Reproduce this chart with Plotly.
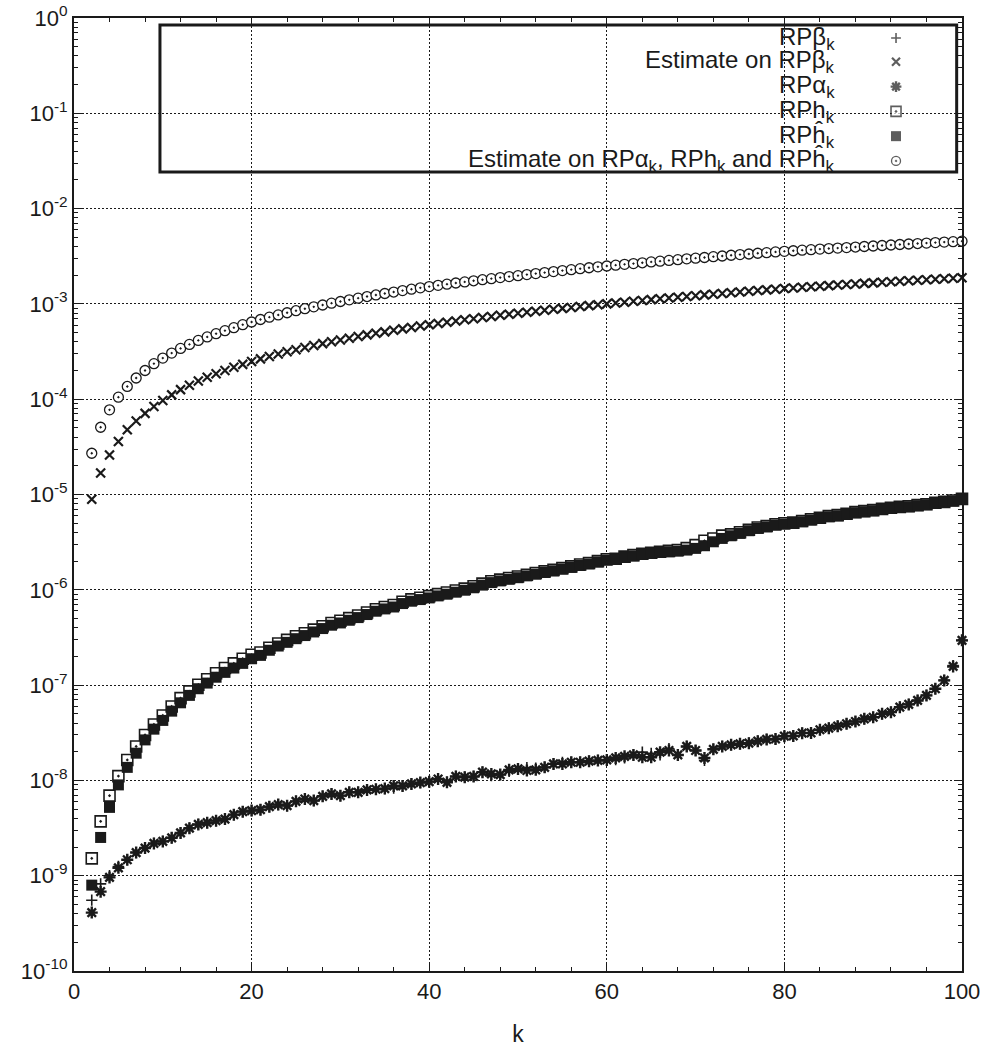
import plotly.graph_objects as go

k = list(range(2, 101))

rp_beta = [5.53e-10, 8.2e-10, 1.0e-9, 1.25e-9, 1.47e-9, 1.75e-9, 1.95e-9, 2.18e-9, 2.29e-9, 2.5e-9,
           2.81e-9, 3.15e-9, 3.45e-9, 3.6e-9, 3.78e-9, 3.93e-9, 4.37e-9, 4.7e-9, 4.82e-9,
           4.93e-9, 5.3e-9, 5.57e-9, 5.43e-9, 6.03e-9, 6.38e-9, 6.14e-9, 6.81e-9, 7.21e-9, 6.92e-9,
           7.5e-9, 7.5e-9, 7.94e-9, 8.07e-9, 8.2e-9, 8.3e-9, 8.75e-9, 9.18e-9, 9.48e-9, 9.7e-9,
           1.035e-8, 9.55e-9, 1.1e-8, 1.08e-8, 1.1e-8, 1.22e-8, 1.12e-8, 1.15e-8, 1.24e-8, 1.32e-8,
           1.36e-8, 1.35e-8, 1.37e-8, 1.49e-8, 1.55e-8, 1.55e-8, 1.55e-8, 1.59e-8, 1.62e-8, 1.64e-8,
           1.65e-8, 1.72e-8, 1.85e-8, 1.98e-8, 1.92e-8, 1.85e-8, 2.15e-8, 1.85e-8, 2.27e-8, 2.06e-8,
           1.62e-8, 2.12e-8, 2.27e-8, 2.36e-8, 2.42e-8, 2.46e-8, 2.58e-8, 2.69e-8, 2.72e-8, 2.91e-8,
           2.93e-8, 3.13e-8, 3.15e-8, 3.4e-8, 3.53e-8, 3.71e-8, 3.93e-8, 4.15e-8, 4.43e-8, 4.6e-8,
           5.0e-8, 5.2e-8, 5.87e-8, 6.27e-8, 6.9e-8, 7.8e-8, 9.16e-8, 1.12e-7, 1.6e-7, 2.95e-7]

est_beta = [8.9e-6, 1.68e-5, 2.6e-5, 3.6e-5, 4.77e-5, 5.9e-5, 7.1e-5, 8.4e-5, 9.7e-5, 1.11e-4, 1.26e-4,
            1.40e-4, 1.55e-4, 1.70e-4, 1.85e-4, 2.00e-4, 2.16e-4, 2.32e-4, 2.49e-4,
            2.65e-4, 2.81e-4, 2.98e-4, 3.14e-4, 3.31e-4, 3.48e-4, 3.66e-4, 3.83e-4, 4.01e-4, 4.18e-4,
            4.36e-4, 4.54e-4, 4.73e-4, 4.91e-4, 5.09e-4, 5.28e-4, 5.47e-4, 5.66e-4, 5.85e-4, 6.05e-4,
            6.24e-4, 6.43e-4, 6.62e-4, 6.81e-4, 7.00e-4, 7.19e-4, 7.39e-4, 7.59e-4, 7.78e-4, 7.98e-4,
            8.18e-4, 8.38e-4, 8.58e-4, 8.78e-4, 8.98e-4, 9.18e-4, 9.38e-4, 9.59e-4, 9.79e-4, 1.0e-3,
            1.021e-3, 1.043e-3, 1.065e-3, 1.087e-3, 1.109e-3, 1.131e-3, 1.153e-3, 1.175e-3, 1.198e-3, 1.22e-3,
            1.243e-3, 1.265e-3, 1.288e-3, 1.311e-3, 1.334e-3, 1.357e-3, 1.38e-3, 1.403e-3, 1.427e-3, 1.45e-3,
            1.471e-3, 1.492e-3, 1.514e-3, 1.535e-3, 1.556e-3, 1.578e-3, 1.599e-3, 1.62e-3, 1.642e-3, 1.663e-3,
            1.685e-3, 1.707e-3, 1.728e-3, 1.75e-3, 1.772e-3, 1.794e-3, 1.816e-3, 1.838e-3, 1.859e-3, 1.88e-3]

rp_alpha = [4.1e-10, 6.8e-10, 9.6e-10, 1.21e-9, 1.47e-9, 1.75e-9, 1.95e-9, 2.18e-9, 2.29e-9, 2.5e-9,
            2.81e-9, 3.15e-9, 3.45e-9, 3.6e-9, 3.78e-9, 3.93e-9, 4.37e-9, 4.7e-9, 4.82e-9,
            4.93e-9, 5.3e-9, 5.57e-9, 5.43e-9, 6.03e-9, 6.38e-9, 6.14e-9, 6.81e-9, 7.21e-9, 6.92e-9,
            7.5e-9, 7.5e-9, 7.94e-9, 8.07e-9, 8.2e-9, 8.75e-9, 8.75e-9, 9.18e-9, 9.48e-9, 9.7e-9,
            1.035e-8, 9.55e-9, 1.1e-8, 1.08e-8, 1.1e-8, 1.22e-8, 1.17e-8, 1.15e-8, 1.29e-8, 1.32e-8,
            1.27e-8, 1.29e-8, 1.37e-8, 1.49e-8, 1.49e-8, 1.55e-8, 1.55e-8, 1.59e-8, 1.62e-8, 1.64e-8,
            1.72e-8, 1.79e-8, 1.85e-8, 1.75e-8, 1.75e-8, 1.98e-8, 2.06e-8, 1.85e-8, 2.27e-8, 2.06e-8,
            1.72e-8, 2.12e-8, 2.27e-8, 2.36e-8, 2.42e-8, 2.46e-8, 2.58e-8, 2.69e-8, 2.72e-8, 2.91e-8,
            2.93e-8, 3.13e-8, 3.15e-8, 3.4e-8, 3.53e-8, 3.71e-8, 3.93e-8, 4.15e-8, 4.43e-8, 4.6e-8,
            5.0e-8, 5.2e-8, 5.87e-8, 6.27e-8, 6.9e-8, 7.8e-8, 9.16e-8, 1.12e-7, 1.57e-7, 2.95e-7]

rp_h = [1.52e-9, 3.72e-9, 6.92e-9, 1.11e-8, 1.64e-8, 2.27e-8, 3.0e-8, 3.86e-8, 4.8e-8, 5.97e-8,
        7.3e-8, 8.6e-8, 1.01e-7, 1.15e-7, 1.33e-7, 1.51e-7, 1.69e-7, 1.89e-7, 2.08e-7,
        2.2e-7, 2.47e-7, 2.73e-7, 2.98e-7, 3.25e-7, 3.5e-7, 3.82e-7, 4.14e-7, 4.48e-7, 4.73e-7,
        5.05e-7, 5.38e-7, 5.78e-7, 6.26e-7, 6.6e-7, 6.92e-7, 7.5e-7, 7.93e-7, 8.25e-7, 8.58e-7,
        9.0e-7, 9.37e-7, 9.83e-7, 1.03e-6, 1.09e-6, 1.16e-6, 1.23e-6, 1.28e-6, 1.33e-6, 1.38e-6,
        1.44e-6, 1.5e-6, 1.56e-6, 1.62e-6, 1.69e-6, 1.76e-6, 1.84e-6, 1.91e-6, 2.0e-6, 2.09e-6,
        2.12e-6, 2.23e-6, 2.31e-6, 2.39e-6, 2.45e-6, 2.51e-6, 2.56e-6, 2.62e-6, 2.74e-6, 2.94e-6,
        3.27e-6, 3.45e-6, 3.7e-6, 3.82e-6, 4.02e-6, 4.27e-6, 4.5e-6, 4.67e-6, 4.87e-6, 4.99e-6,
        5.07e-6, 5.27e-6, 5.49e-6, 5.71e-6, 5.94e-6, 6.07e-6, 6.27e-6, 6.53e-6, 6.69e-6, 6.85e-6,
        7.07e-6, 7.25e-6, 7.42e-6, 7.54e-6, 7.73e-6, 7.91e-6, 8.18e-6, 8.37e-6, 8.64e-6, 9.0e-6]

rp_hhat = [7.96e-10, 2.52e-9, 5.21e-9, 8.97e-9, 1.37e-8, 1.93e-8, 2.66e-8, 3.45e-8, 4.26e-8, 5.33e-8,
           6.52e-8, 7.8e-8, 9.16e-8, 1.05e-7, 1.21e-7, 1.36e-7, 1.51e-7, 1.69e-7, 1.89e-7,
           2.05e-7, 2.32e-7, 2.57e-7, 2.81e-7, 3.07e-7, 3.31e-7, 3.61e-7, 3.92e-7, 4.25e-7, 4.49e-7,
           4.79e-7, 5.11e-7, 5.5e-7, 5.96e-7, 6.3e-7, 6.6e-7, 7.17e-7, 7.59e-7, 7.9e-7, 8.22e-7,
           8.63e-7, 8.99e-7, 9.44e-7, 9.9e-7, 1.05e-6, 1.12e-6, 1.19e-6, 1.24e-6, 1.29e-6, 1.34e-6,
           1.40e-6, 1.46e-6, 1.52e-6, 1.58e-6, 1.65e-6, 1.72e-6, 1.80e-6, 1.87e-6, 1.96e-6, 2.05e-6,
           2.08e-6, 2.19e-6, 2.27e-6, 2.35e-6, 2.41e-6, 2.47e-6, 2.51e-6, 2.55e-6, 2.61e-6, 2.72e-6,
           2.9e-6, 3.19e-6, 3.46e-6, 3.69e-6, 3.91e-6, 4.17e-6, 4.41e-6, 4.58e-6, 4.78e-6, 4.9e-6,
           4.98e-6, 5.18e-6, 5.4e-6, 5.62e-6, 5.85e-6, 5.98e-6, 6.18e-6, 6.44e-6, 6.6e-6, 6.76e-6,
           6.98e-6, 7.16e-6, 7.33e-6, 7.45e-6, 7.64e-6, 7.82e-6, 8.09e-6, 8.28e-6, 8.55e-6, 8.9e-6]

est_all = [2.71e-5, 5.08e-5, 7.74e-5, 1.05e-4, 1.36e-4, 1.67e-4, 2.0e-4, 2.36e-4, 2.7e-4, 3.05e-4,
           3.41e-4, 3.76e-4, 4.14e-4, 4.5e-4, 4.87e-4, 5.24e-4, 5.63e-4, 6.05e-4, 6.46e-4,
           6.86e-4, 7.26e-4, 7.66e-4, 8.07e-4, 8.48e-4, 8.90e-4, 9.31e-4, 9.74e-4, 1.017e-3, 1.06e-3,
           1.104e-3, 1.149e-3, 1.195e-3, 1.241e-3, 1.286e-3, 1.332e-3, 1.379e-3, 1.426e-3, 1.473e-3, 1.52e-3,
           1.565e-3, 1.61e-3, 1.656e-3, 1.702e-3, 1.748e-3, 1.794e-3, 1.841e-3, 1.887e-3, 1.934e-3, 1.98e-3,
           2.031e-3, 2.082e-3, 2.133e-3, 2.185e-3, 2.237e-3, 2.289e-3, 2.341e-3, 2.394e-3, 2.447e-3, 2.5e-3,
           2.55e-3, 2.6e-3, 2.65e-3, 2.7e-3, 2.76e-3, 2.81e-3, 2.86e-3, 2.91e-3, 2.97e-3, 3.02e-3,
           3.07e-3, 3.13e-3, 3.18e-3, 3.24e-3, 3.29e-3, 3.34e-3, 3.40e-3, 3.45e-3, 3.51e-3, 3.56e-3,
           3.61e-3, 3.66e-3, 3.71e-3, 3.76e-3, 3.81e-3, 3.85e-3, 3.90e-3, 3.95e-3, 4.00e-3, 4.05e-3,
           4.10e-3, 4.15e-3, 4.20e-3, 4.25e-3, 4.30e-3, 4.35e-3, 4.40e-3, 4.45e-3, 4.50e-3, 4.55e-3]

series_names = ["RPβ<sub>k</sub>", "Estimate on RPβ<sub>k</sub>", "RPα<sub>k</sub>",
                "RPh<sub>k</sub>", "RPĥ<sub>k</sub>",
                "Estimate on RPα<sub>k</sub>, RPh<sub>k</sub> and RPĥ<sub>k</sub>"]

y_tick_vals = [1e-10, 1e-9, 1e-8, 1e-7, 1e-6, 1e-5, 1e-4, 1e-3, 1e-2, 1e-1, 1]
y_tick_text = ["10<sup>-10</sup>", "10<sup>-9</sup>", "10<sup>-8</sup>", "10<sup>-7</sup>",
               "10<sup>-6</sup>", "10<sup>-5</sup>", "10<sup>-4</sup>", "10<sup>-3</sup>",
               "10<sup>-2</sup>", "10<sup>-1</sup>", "10<sup>0</sup>"]
y_minor_vals = [m * d for d in [1e-10, 1e-9, 1e-8, 1e-7, 1e-6, 1e-5, 1e-4, 1e-3, 1e-2, 1e-1]
                for m in range(2, 10)]

FONT = "Liberation Sans, Arial, sans-serif"
BLACK = "#1a1a1a"

styles = [
    dict(symbol="cross-thin-open", size=8, line=dict(width=1.6, color=BLACK), color=BLACK),
    dict(symbol="x-thin-open", size=9, line=dict(width=2.2, color=BLACK), color=BLACK),
    dict(symbol="asterisk-open", size=10, line=dict(width=2.4, color=BLACK), color=BLACK),
    dict(symbol="square-dot", size=11, color="white", line=dict(width=1.6, color=BLACK)),
    dict(symbol="square", size=11, color=BLACK, line=dict(width=0, color=BLACK)),
    dict(symbol="circle-dot", size=10, color="white", line=dict(width=1.3, color=BLACK)),
]
data = [rp_beta, est_beta, rp_alpha, rp_h, rp_hhat, est_all]

fig = go.Figure()
for name, vals, st in zip(series_names, data, styles):
    fig.add_trace(go.Scatter(x=k, y=vals, mode="markers", name=name, marker=st,
                             showlegend=False, cliponaxis=False))

# manual legend (text right-aligned, symbol to its right, as in gnuplot)
leg_rows = [0.979, 0.954, 0.928, 0.902, 0.876, 0.850]
leg_text_x = 0.859
leg_sym_x = 0.9257
fig.add_trace(go.Scatter(
    x=[leg_sym_x] * 6, y=leg_rows, xaxis="x2", yaxis="y2", mode="markers",
    marker=dict(symbol=[s["symbol"] for s in styles], size=[s["size"] - 1 for s in styles],
                color=[s["color"] for s in styles],
                line=dict(width=[s["line"]["width"] for s in styles], color=BLACK)),
    showlegend=False, hoverinfo="skip"))
for name, yy in zip(series_names, leg_rows):
    fig.add_annotation(x=leg_text_x, y=yy, xref="paper", yref="paper", text=name,
                       showarrow=False, xanchor="right", yanchor="middle",
                       font=dict(family=FONT, size=24, color=BLACK))

fig.add_shape(type="rect", xref="paper", yref="paper", x0=0.0968, x1=0.994, y0=0.8384, y1=0.9927,
              line=dict(color=BLACK, width=3), fillcolor="white", layer="between")

fig.update_layout(
    width=984, height=1049,
    margin=dict(l=74, r=22, t=18, b=78, autoexpand=False),
    paper_bgcolor="white", plot_bgcolor="white",
    font=dict(family=FONT, size=22, color=BLACK),
    showlegend=False,
    xaxis=dict(range=[0, 100], dtick=20, tick0=0, ticks="inside", ticklen=8, tickwidth=1,
               tickcolor=BLACK, showline=True, linecolor=BLACK, linewidth=2, mirror="allticks",
               showgrid=True, gridcolor=BLACK, gridwidth=1, griddash="2px,2px", zeroline=False,
               automargin=False,
               minor=dict(dtick=4, ticks="inside", ticklen=4, tickcolor=BLACK, showgrid=False),
               title=dict(text="k", font=dict(size=23), standoff=22),
               tickfont=dict(size=22)),
    yaxis=dict(type="log", range=[-10, 0], tickmode="array", tickvals=y_tick_vals,
               ticktext=y_tick_text, ticks="inside", ticklen=8, tickwidth=1, tickcolor=BLACK,
               showline=True, linecolor=BLACK, linewidth=2, mirror="allticks",
               showgrid=True, gridcolor=BLACK, gridwidth=1, griddash="2px,2px", zeroline=False,
               automargin=False,
               minor=dict(tickmode="array", tickvals=y_minor_vals, ticks="inside", ticklen=4,
                          tickcolor=BLACK, showgrid=False),
               tickfont=dict(size=22)),
    xaxis2=dict(overlaying="x", range=[0, 1], visible=False, fixedrange=True),
    yaxis2=dict(overlaying="y", range=[0, 1], visible=False, fixedrange=True),
)

fig.write_html("out.html")
